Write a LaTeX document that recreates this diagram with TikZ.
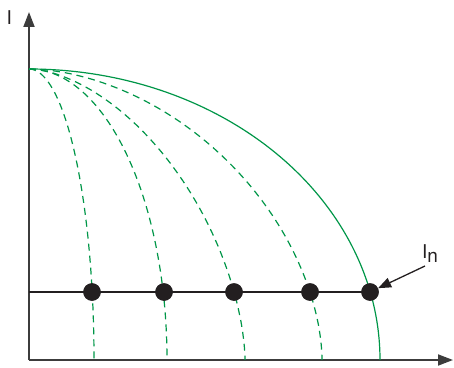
\documentclass[tikz,border=0pt]{standalone}
\usepackage{fontspec}
\setmainfont{TeX Gyre Heros}
\usetikzlibrary{arrows.meta}
\definecolor{curvegreen}{RGB}{0,150,72}
\definecolor{axisgray}{RGB}{60,60,60}
\definecolor{dotblack}{RGB}{35,31,32}
\tikzset{
  axisline/.style={draw=axisgray,line width=1.8pt,-{Triangle[length=15pt,width=11pt]}},
  solidcurve/.style={draw=curvegreen,line width=1.2pt},
  dashcurve/.style={draw=curvegreen,line width=1.2pt,dash pattern=on 7pt off 5pt},
  dotnode/.style={circle,fill=dotblack,inner sep=0pt,minimum size=17.5pt},
  lbl/.style={font=\fontsize{19}{19}\selectfont,inner sep=0pt,text=dotblack},
}
\begin{document}
\begin{tikzpicture}[x=1pt,y=1pt]
\useasboundingbox (0,0) rectangle (454,367);
% axes
\coordinate (O) at (29,7);
\coordinate (ytip) at (29,355);
\coordinate (xtip) at (453,7);
\coordinate (top) at (29,298);
\coordinate (hl) at (29,75);
\draw[axisline] (O) -- (ytip);
\draw[axisline] (O) -- (xtip);
\node[lbl,anchor=base west] (ylab) at (6.5,342) {I};
% curves
\draw[solidcurve] plot[domain=0:90,samples=90,smooth] ({29+351*cos(\x)},{7+291*sin(\x)});
\draw[dashcurve] plot[domain=90:0,samples=90,smooth] ({29+65*cos(\x)},{7+291*sin(\x)});
\draw[dashcurve] plot[domain=90:0,samples=90,smooth] ({29+138*cos(\x)},{7+291*sin(\x)});
\draw[dashcurve] plot[domain=89.99:0.01,samples=90,smooth] ({29+216*pow(cos(\x),2/1.7)},{7+291*pow(sin(\x),2/1.7)});
\draw[dashcurve] plot[domain=89.99:0.01,samples=90,smooth] ({29+293*pow(cos(\x),2/1.8)},{7+291*pow(sin(\x),2/1.8)});
% dots
\node[dotnode] (d1) at (92,75) {};
\node[dotnode] (d2) at (164,75) {};
\node[dotnode] (d3) at (234,75) {};
\node[dotnode] (d4) at (310,75) {};
\node[dotnode] (d5) at (370,75) {};
\draw[dotblack,line width=1.5pt] (hl) -- (d5.center);
\foreach \d in {d1,d2,d3,d4,d5} \node[dotnode] at (\d) {};
% label In
\node[lbl,anchor=base west] (In) at (422,109) {I\raisebox{-4pt}{n}};
\coordinate (intail) at (425,101);
\draw[dotblack,line width=1.3pt,-{Triangle[length=13pt,width=10pt]}] (intail) -- (d5);
\end{tikzpicture}
\end{document}
